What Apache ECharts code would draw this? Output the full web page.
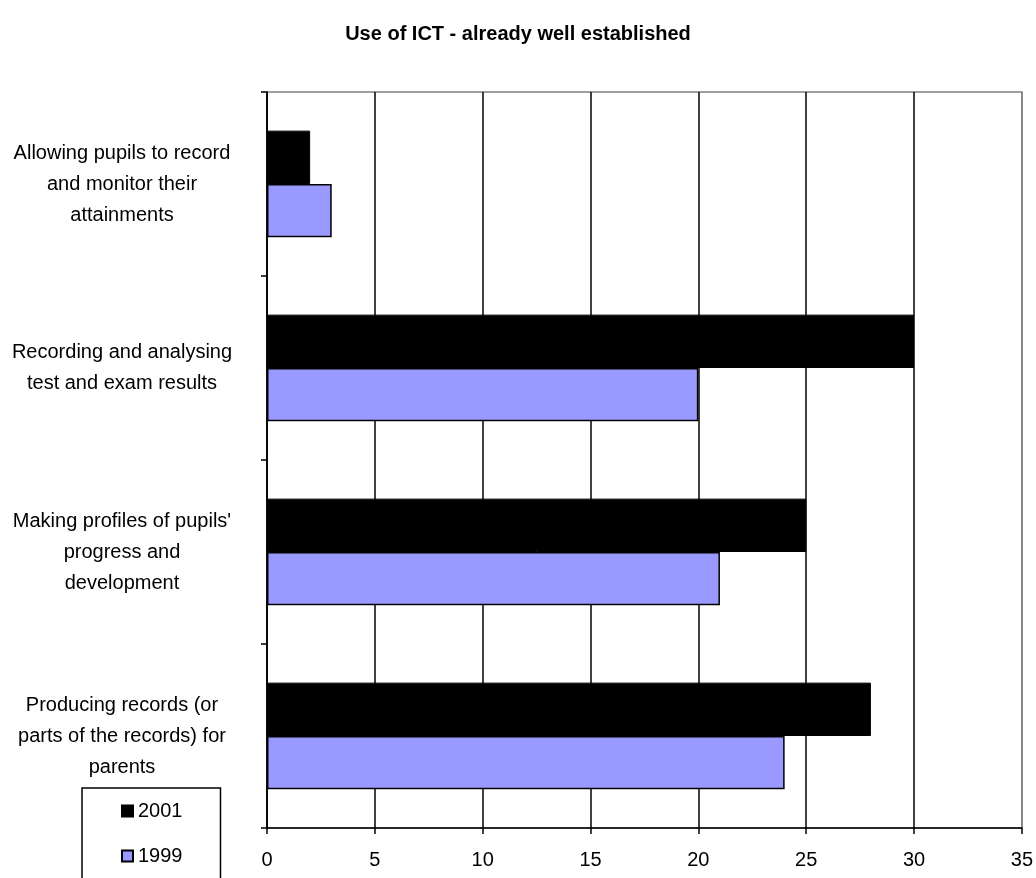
<!DOCTYPE html>
<html>
<head>
<meta charset="utf-8">
<script src="https://cdn.jsdelivr.net/npm/echarts@6/dist/echarts.min.js"></script>
<style>
  html, body { margin: 0; padding: 0; background: #fff; }
  #chart { width: 1036px; height: 878px; }
</style>
</head>
<body>
<div id="chart"></div>
<script>
// Survey items (top to bottom)
const categories = [
  'Allowing pupils to record\nand monitor their\nattainments',
  'Recording and analysing\ntest and exam results',
  "Making profiles of pupils'\nprogress and\ndevelopment",
  'Producing records (or\nparts of the records) for\nparents'
];
const values2001 = [2, 30, 25, 28];
const values1999 = [3, 20, 21, 24];
const xTicks = [0, 5, 10, 15, 20, 25, 30, 35];

const FONT = '"Liberation Sans", Arial, sans-serif';

const chart = echarts.init(document.getElementById('chart'), null, { renderer: 'canvas' });

chart.setOption({
  animation: false,
  backgroundColor: '#ffffff',
  title: {
    text: 'Use of ICT - already well established',
    left: 'center',
    top: 19,
    textStyle: { fontFamily: FONT, fontSize: 20, fontWeight: 'bold', color: '#000' }
  },
  legend: {
    orient: 'vertical',
    left: 82,
    top: 788,
    height: 200,
    data: ['2001', '1999'],
    icon: 'rect',
    itemWidth: 11,
    itemHeight: 11,
    itemGap: 25,
    padding: [13, 38, 30, 39],
    borderColor: '#000',
    borderWidth: 1.5,
    textStyle: { fontFamily: FONT, fontSize: 20, color: '#000' }
  },
  grid: {
    left: 267, right: 10, top: 92, bottom: 50,
    show: true,
    borderColor: '#808080',
    borderWidth: 1.5,
    backgroundColor: '#fff'
  },
  xAxis: {
    type: 'value',
    min: xTicks[0],
    max: xTicks[xTicks.length - 1],
    interval: 5,
    axisLine: { show: true, lineStyle: { color: '#000', width: 1.5 } },
    axisTick: { show: true, length: 6, lineStyle: { color: '#000', width: 1.5 } },
    axisLabel: { fontFamily: FONT, fontSize: 20, color: '#000', margin: 22 },
    splitLine: {
      show: true,
      lineStyle: {
        color: ['#000', '#000', '#000', '#000', '#000', '#000', '#000', '#808080'],
        width: 1.5
      }
    }
  },
  yAxis: {
    type: 'category',
    inverse: true,
    data: categories,
    axisLine: { show: true, lineStyle: { color: '#000', width: 1.5 } },
    axisTick: { show: true, length: 6, lineStyle: { color: '#000', width: 1.5 } },
    axisLabel: {
      fontFamily: FONT, fontSize: 20, color: '#000',
      align: 'center', margin: 145, lineHeight: 31
    },
    splitLine: { show: false }
  },
  series: [
    {
      name: '2001',
      type: 'bar',
      data: values2001,
      barGap: '0%',
      barCategoryGap: '42%',
      itemStyle: { color: '#000000', borderColor: '#000', borderWidth: 1 }
    },
    {
      name: '1999',
      type: 'bar',
      data: values1999,
      barGap: '0%',
      barCategoryGap: '42%',
      itemStyle: { color: '#9999ff', borderColor: '#000', borderWidth: 1.5 }
    }
  ]
});
</script>
</body>
</html>
